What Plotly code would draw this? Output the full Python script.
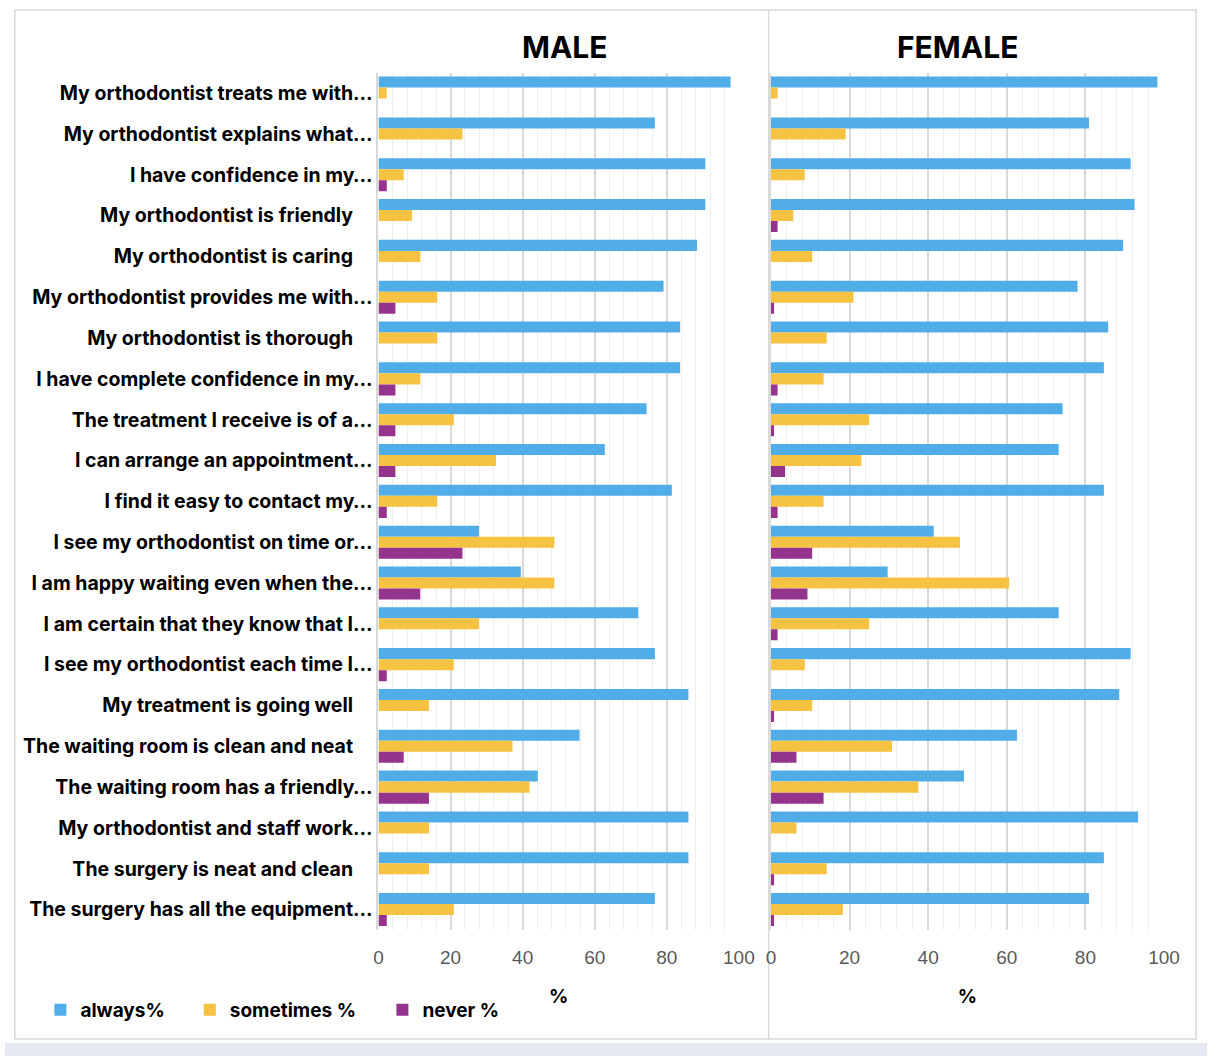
import plotly.graph_objects as go

categories = [
    "My orthodontist treats me with…",
    "My orthodontist explains what…",
    "I have confidence in my…",
    "My orthodontist is friendly",
    "My orthodontist is caring",
    "My orthodontist provides me with…",
    "My orthodontist is thorough",
    "I have complete confidence in my…",
    "The treatment I receive is of a…",
    "I can arrange an appointment…",
    "I find it easy to contact my…",
    "I see my orthodontist on time or…",
    "I am happy waiting even when the…",
    "I am certain that they know that I…",
    "I see my orthodontist each time I…",
    "My treatment is going well",
    "The waiting room is clean and neat",
    "The waiting room has a friendly…",
    "My orthodontist and staff work…",
    "The surgery is neat and clean",
    "The surgery has all the equipment…",
]

male_always = [97.7, 76.7, 90.7, 90.7, 88.4, 79.1, 83.7, 83.7, 74.4, 62.8, 81.4,
               27.9, 39.5, 72.1, 76.7, 86.0, 55.8, 44.2, 86.0, 86.0, 76.7]
male_sometimes = [2.3, 23.3, 7.0, 9.3, 11.6, 16.3, 16.3, 11.6, 20.9, 32.6, 16.3,
                  48.8, 48.8, 27.9, 20.9, 14.0, 37.2, 41.9, 14.0, 14.0, 20.9]
male_never = [0, 0, 2.3, 0, 0, 4.7, 0, 4.7, 4.7, 4.7, 2.3,
              23.3, 11.6, 0, 2.3, 0, 7.0, 14.0, 0, 0, 2.3]

female_always = [98.3, 80.9, 91.5, 92.5, 89.6, 78.0, 85.8, 84.7, 74.2, 73.2, 84.7,
                 41.4, 29.7, 73.2, 91.5, 88.6, 62.6, 49.1, 93.4, 84.7, 80.9]
female_sometimes = [1.7, 19.0, 8.6, 5.7, 10.5, 21.0, 14.2, 13.4, 25.0, 23.0, 13.4,
                    48.1, 60.6, 25.0, 8.6, 10.5, 30.8, 37.5, 6.5, 14.2, 18.3]
female_never = [0, 0, 0, 1.7, 0, 0.8, 0, 1.7, 0.8, 3.6, 1.7,
                10.5, 9.3, 1.7, 0, 0.8, 6.5, 13.4, 0, 0.8, 0.8]

series_names = ["always%", "sometimes %", "never %"]
colors = ["#50ADE8", "#F5C242", "#94348C"]
x_ticks = [0, 20, 40, 60, 80, 100]

W, H = 1223, 1056
FONT = "Inter"

def px_x(v):
    return v / W

def px_y(v):
    return 1 - v / H

# tick text: non-truncated labels carry a little trailing padding as in the original
ticktext = [c if c.endswith("…") else c + "\u2002\u2002" for c in categories]

legend_ids = ["legend", "legend2", "legend3"]
legend_x = [36, 188, 384]

fig = go.Figure()
male = [male_always, male_sometimes, male_never]
female = [female_always, female_sometimes, female_never]
for i, name in enumerate(series_names):
    fig.add_trace(go.Bar(y=categories, x=male[i], orientation="h", name=name,
                         marker=dict(color=colors[i], line=dict(width=0)),
                         xaxis="x", yaxis="y", legendgroup=name, showlegend=True,
                         legend=legend_ids[i]))
for i, name in enumerate(series_names):
    fig.add_trace(go.Bar(y=categories, x=female[i], orientation="h", name=name,
                         marker=dict(color=colors[i], line=dict(width=0)),
                         xaxis="x2", yaxis="y2", legendgroup=name, showlegend=False,
                         legend=legend_ids[i]))

ydom = [px_y(930), px_y(72.7)]
common_x = dict(range=[0, 100], tickvals=x_ticks, showgrid=True, gridcolor="#D9D9D9",
                gridwidth=1.5, zeroline=False, showline=False,
                ticks="outside", ticklen=10, tickcolor="rgba(0,0,0,0)",
                tickfont=dict(family="Liberation Sans", size=19, color="#595959"),
                minor=dict(dtick=4, showgrid=True, gridcolor="#EFEFEF", gridwidth=1),
                title=dict(text="<b>%</b>", font=dict(family=FONT, size=19, color="#000"), standoff=22),
                fixedrange=True)

legend_style = dict(orientation="h", xanchor="left", y=px_y(1010), yanchor="middle",
                    font=dict(family=FONT, size=19, color="#000", weight=700),
                    bgcolor="rgba(0,0,0,0)")

layout_legends = {lid: dict(x=px_x(lx), **legend_style) for lid, lx in zip(legend_ids, legend_x)}

fig.update_layout(
    height=H,
    margin=dict(l=0, r=0, t=0, b=0),
    paper_bgcolor="white", plot_bgcolor="white",
    barmode="group", bargap=0.19, bargroupgap=0,
    font=dict(family=FONT),
    xaxis=dict(domain=[px_x(380), px_x(746.7)], anchor="y", **common_x),
    xaxis2=dict(domain=[px_x(779.3), px_x(1179.3)], anchor="y2", **common_x),
    yaxis=dict(domain=ydom, anchor="x", autorange="reversed", tickmode="array",
               tickvals=categories, ticktext=ticktext, showline=True,
               linecolor="#D9D9D9", linewidth=2, ticks="", showgrid=False,
               tickfont=dict(family=FONT, size=19.5, color="#000", weight=700)),
    yaxis2=dict(domain=ydom, anchor="x2", autorange="reversed", showticklabels=False,
                showline=True, linecolor="#D9D9D9", linewidth=2, ticks="", showgrid=False),
    annotations=[
        dict(text="<b>MALE</b>", x=px_x(570), y=px_y(47), xref="paper", yref="paper",
             xanchor="center", yanchor="middle",
             showarrow=False, font=dict(family=FONT, size=30, color="#000")),
        dict(text="<b>FEMALE</b>", x=px_x(969), y=px_y(47), xref="paper", yref="paper",
             xanchor="center", yanchor="middle",
             showarrow=False, font=dict(family=FONT, size=30, color="#000")),
    ],
    shapes=[
        dict(type="rect", xref="paper", yref="paper", x0=0, x1=1, y0=0, y1=px_y(1043),
             fillcolor="#E6E8F3", line=dict(width=0), layer="below"),
        dict(type="rect", xref="paper", yref="paper", x0=px_x(10), x1=px_x(1212),
             y0=px_y(1039), y1=px_y(10), line=dict(color="#D9D9D9", width=1.5),
             fillcolor="rgba(0,0,0,0)", layer="below"),
        dict(type="line", xref="paper", yref="paper", x0=px_x(777), x1=px_x(777),
             y0=px_y(1039), y1=px_y(10), line=dict(color="#D9D9D9", width=1.5),
             layer="below"),
    ],
    **layout_legends,
)

post = ("document.documentElement.style.margin='0';document.body.style.margin='0';"
        "document.documentElement.style.overflow='hidden';document.body.style.overflow='hidden';")

fig.write_html("out.html", default_width="100%", post_script=post)
